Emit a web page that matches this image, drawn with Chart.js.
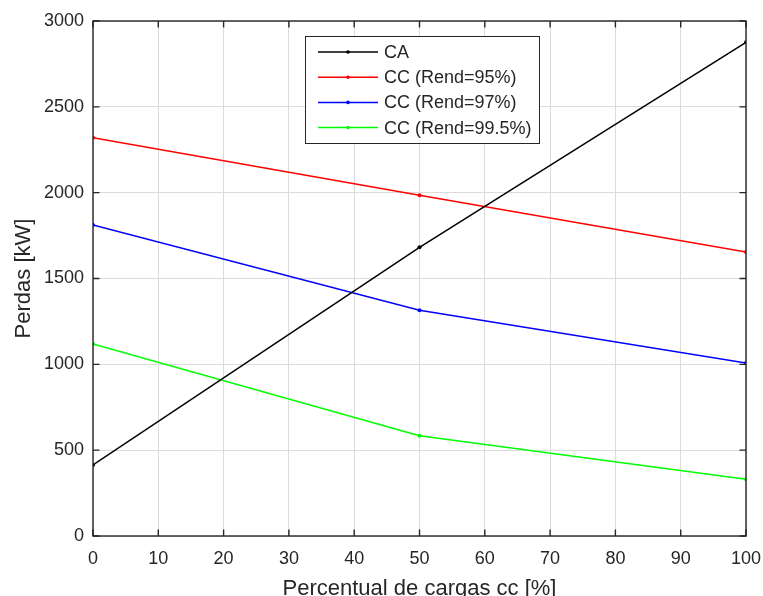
<!DOCTYPE html>
<html>
<head>
<meta charset="utf-8">
<script src="https://cdn.jsdelivr.net/npm/chart.js@4"></script>
<style>
  html, body { margin: 0; padding: 0; background: #fff; }
  #wrap { width: 763px; height: 596px; }
</style>
</head>
<body>
<div id="wrap"><canvas id="perdasChart" width="763" height="596"></canvas></div>
<script>
// load percentage (x) and losses in kW for each case
const cargas = [0, 50, 100];
const perdasCA = [414, 1682, 2876];
const perdasCC95 = [2320, 1985, 1654];
const perdasCC97 = [1812, 1315, 1008];
const perdasCC995 = [1118, 584, 330];
const labels = ["CA", "CC (Rend=95%)", "CC (Rend=97%)", "CC (Rend=99.5%)"];
const colors = ["#000000", "#ff0000", "#0000ff", "#00ff00"];
const xTicks = [0, 10, 20, 30, 40, 50, 60, 70, 80, 90, 100];
const yTicks = [0, 500, 1000, 1500, 2000, 2500, 3000];

const FONT = "'Liberation Sans', Arial, Helvetica, sans-serif";
const AXIS = "#262626";

function toPoints(ys) {
  return cargas.map((x, i) => ({ x: x, y: ys[i] }));
}

const series = [perdasCA, perdasCC95, perdasCC97, perdasCC995];
const datasets = series.map((s, i) => ({
  label: labels[i],
  data: toPoints(s),
  borderColor: colors[i],
  backgroundColor: colors[i],
  borderWidth: 1.5,
  pointRadius: 2,
  pointBorderWidth: 0,
  pointHoverRadius: 2,
  tension: 0,
}));

// box around the plot with inward tick marks (top/bottom/left/right)
const boxAxes = {
  id: "boxAxes",
  afterDatasetsDraw(chart) {
    const { ctx, chartArea: a, scales } = chart;
    const len = 6.5;
    ctx.save();
    ctx.strokeStyle = AXIS;
    ctx.lineWidth = 1.4;
    ctx.strokeRect(a.left, a.top, a.right - a.left, a.bottom - a.top);
    ctx.beginPath();
    xTicks.forEach((v) => {
      const px = scales.x.getPixelForValue(v);
      ctx.moveTo(px, a.bottom);
      ctx.lineTo(px, a.bottom - len);
      ctx.moveTo(px, a.top);
      ctx.lineTo(px, a.top + len);
    });
    yTicks.forEach((v) => {
      const py = scales.y.getPixelForValue(v);
      ctx.moveTo(a.left, py);
      ctx.lineTo(a.left + len, py);
      ctx.moveTo(a.right, py);
      ctx.lineTo(a.right - len, py);
    });
    ctx.stroke();
    ctx.restore();
  },
};

// legend box drawn inside the plot area
const innerLegend = {
  id: "innerLegend",
  afterDraw(chart) {
    const { ctx } = chart;
    const bx = 305, by = 36, bw = 234, bh = 107;
    ctx.save();
    ctx.fillStyle = "#fff";
    ctx.fillRect(bx, by, bw, bh);
    ctx.strokeStyle = AXIS;
    ctx.lineWidth = 1;
    ctx.strokeRect(bx + 0.5, by + 0.5, bw, bh);
    ctx.font = "18px " + FONT;
    ctx.textBaseline = "middle";
    chart.data.datasets.forEach((ds, i) => {
      const y = 52 + i * 25.2;
      ctx.strokeStyle = ds.borderColor;
      ctx.lineWidth = 1.5;
      ctx.beginPath();
      ctx.moveTo(318, y);
      ctx.lineTo(378, y);
      ctx.stroke();
      ctx.fillStyle = ds.borderColor;
      ctx.beginPath();
      ctx.arc(348, y, 1.8, 0, Math.PI * 2);
      ctx.fill();
      ctx.fillStyle = AXIS;
      ctx.fillText(ds.label, 384, y + 1);
    });
    ctx.restore();
  },
};

new Chart(document.getElementById("perdasChart"), {
  type: "line",
  data: { datasets: datasets },
  options: {
    responsive: false,
    animation: false,
    events: [],
    layout: { padding: { top: 21, right: 17, left: 0, bottom: 0 } },
    plugins: { legend: { display: false }, tooltip: { enabled: false } },
    scales: {
      x: {
        type: "linear",
        min: 0,
        max: 100,
        afterBuildTicks: (s) => { s.ticks = xTicks.map((v) => ({ value: v })); },
        afterFit: (s) => {
          s.height = 60;
          s.paddingLeft = 0;
          s.paddingRight = 0;
        },
        grid: { color: "#dcdcdc", lineWidth: 1, drawTicks: false },
        border: { display: false },
        ticks: { color: AXIS, font: { family: FONT, size: 18 }, padding: 12, maxRotation: 0 },
        title: {
          display: true,
          text: "Percentual de cargas cc [%]",
          color: AXIS,
          font: { family: FONT, size: 22 },
          padding: { top: 0, bottom: -6 },
        },
      },
      y: {
        type: "linear",
        min: 0,
        max: 3000,
        afterBuildTicks: (s) => { s.ticks = yTicks.map((v) => ({ value: v })); },
        afterFit: (s) => {
          s.width = 93;
          s.paddingTop = 0;
          s.paddingBottom = 0;
        },
        grid: { color: "#dcdcdc", lineWidth: 1, drawTicks: false },
        border: { display: false },
        ticks: {
          color: AXIS,
          font: { family: FONT, size: 18 },
          padding: 9,
          callback: (v) => String(v),
        },
        title: {
          display: true,
          text: "Perdas [kW]",
          color: AXIS,
          font: { family: FONT, size: 22 },
          padding: { top: 11, bottom: 0 },
        },
      },
    },
  },
  plugins: [boxAxes, innerLegend],
});
</script>
</body>
</html>
